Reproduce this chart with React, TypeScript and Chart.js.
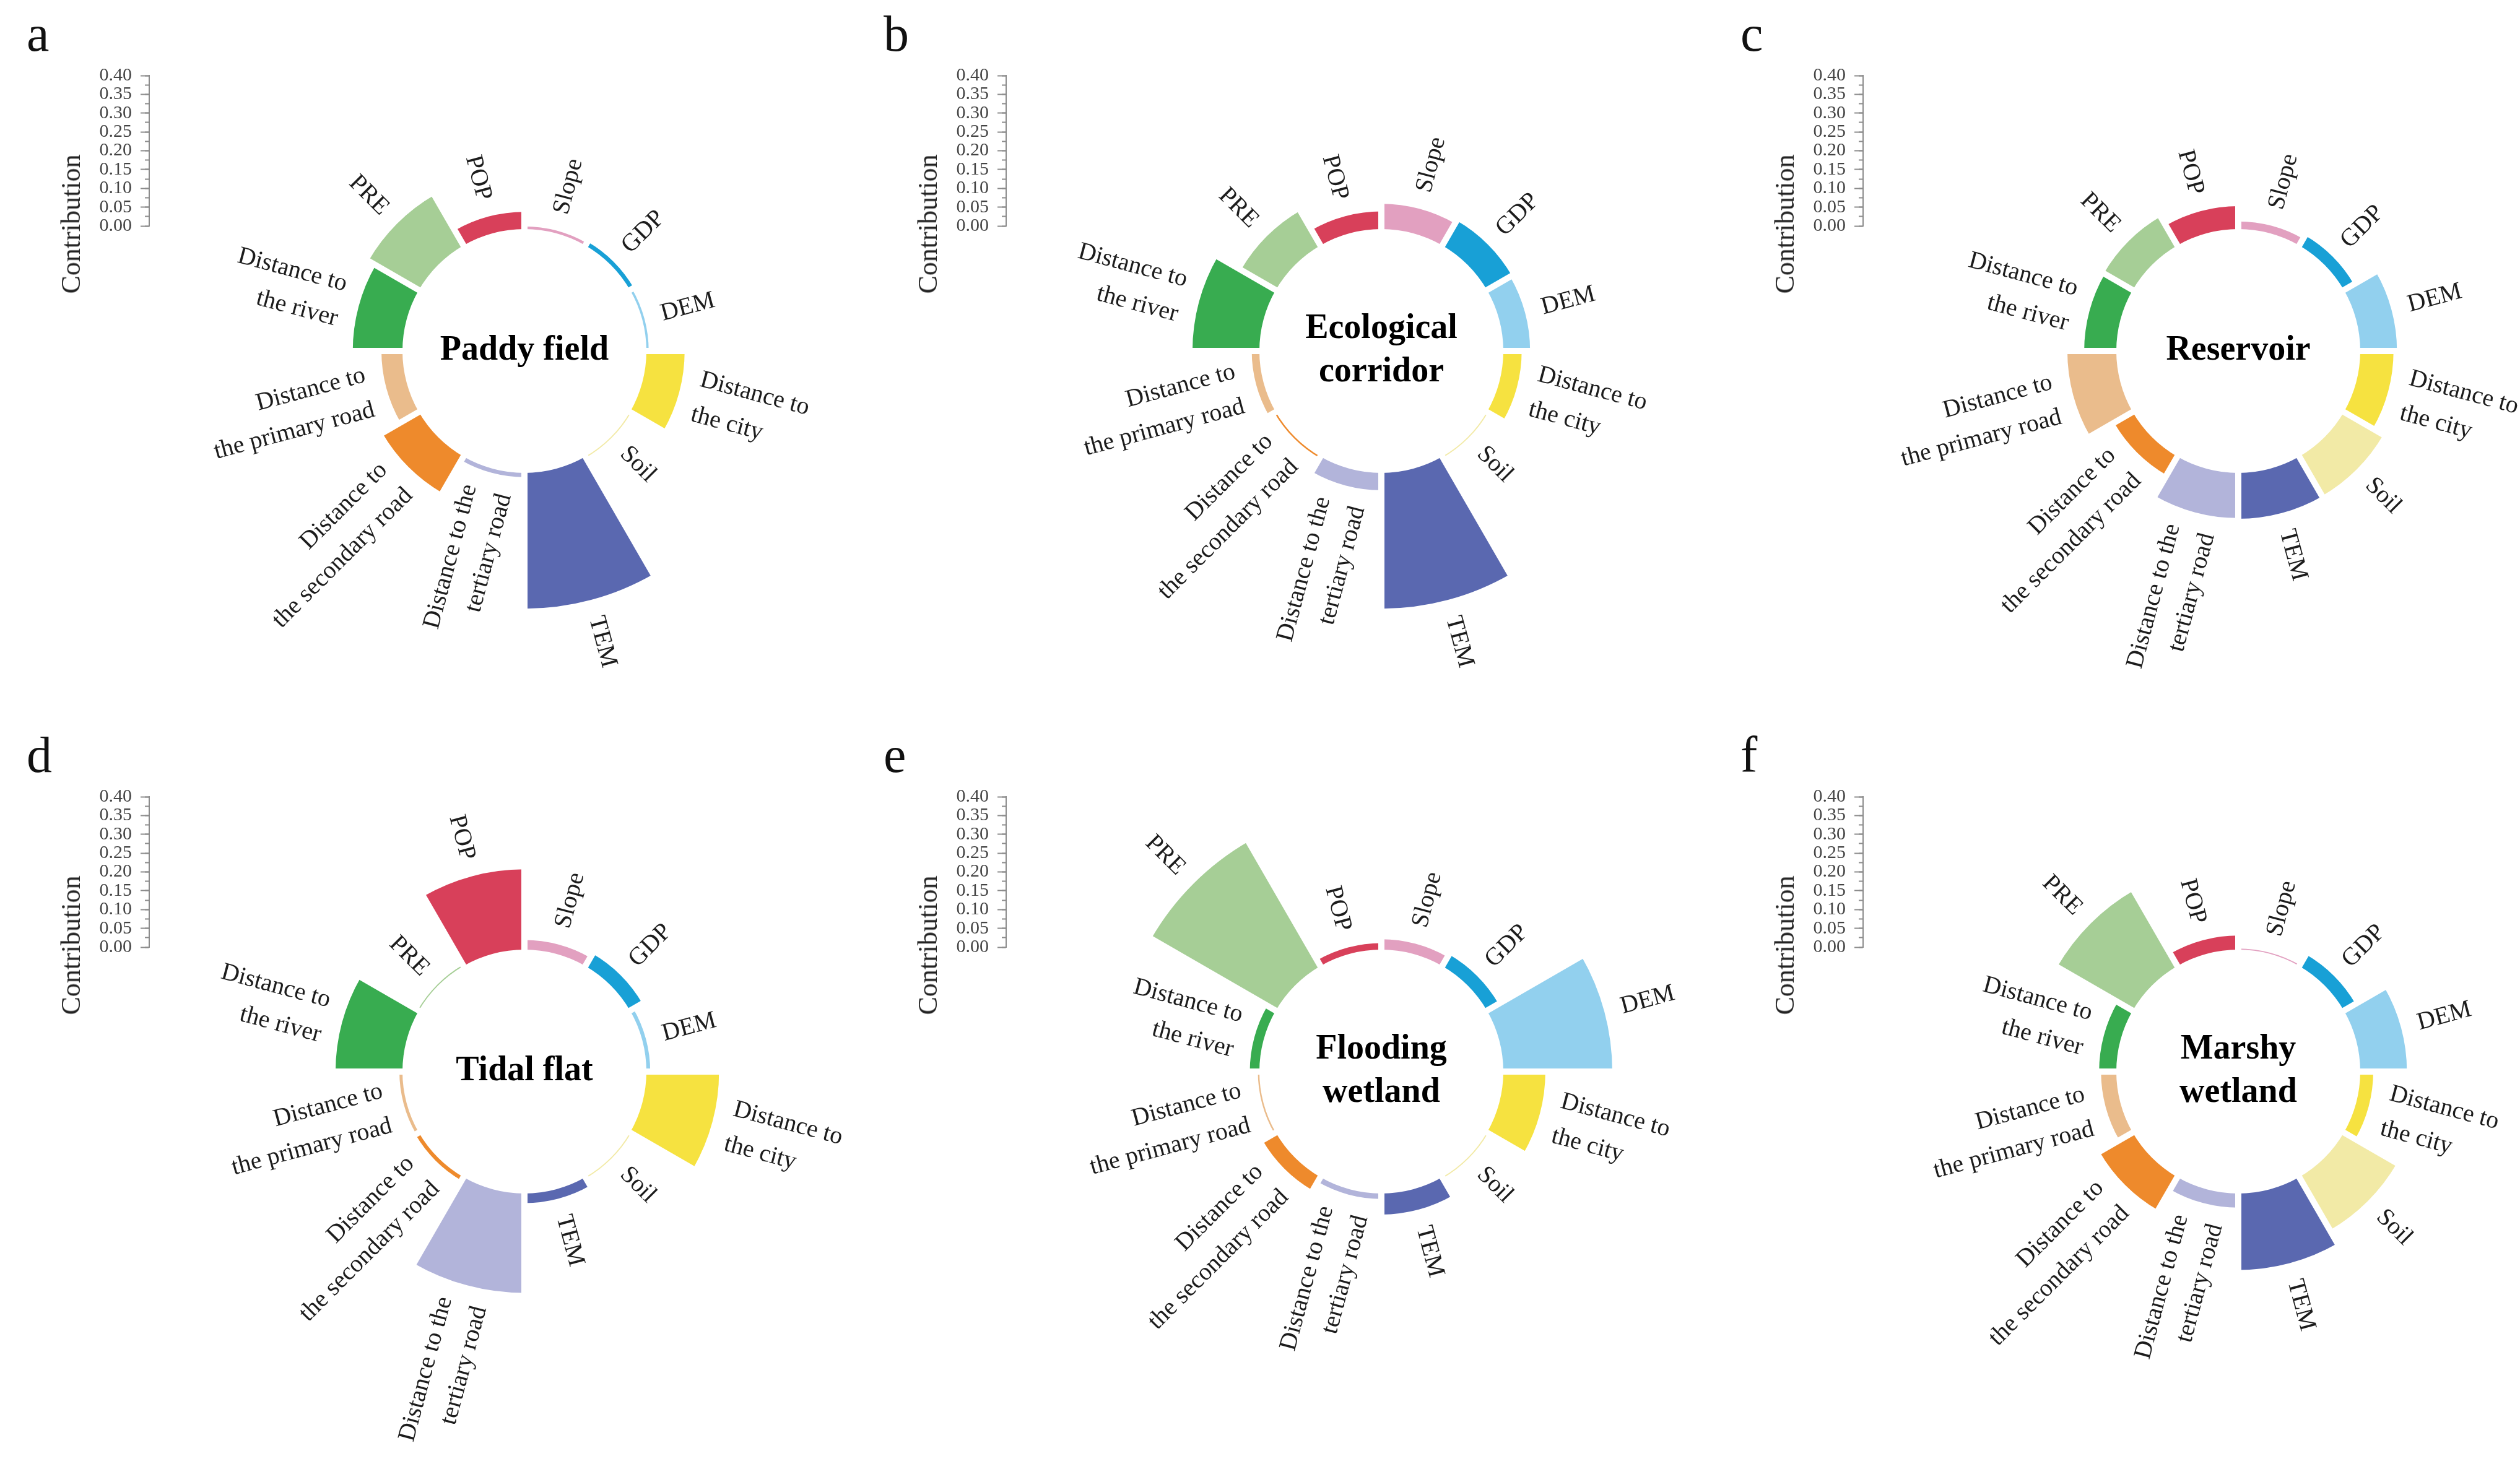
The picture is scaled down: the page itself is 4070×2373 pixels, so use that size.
import React, { useEffect, useRef } from 'react';
import { Chart, registerables } from 'chart.js';

Chart.register(...registerables);

// ---------- data ----------
const FACTORS = [
  'Slope',
  'GDP',
  'DEM',
  'Distance to the city',
  'Soil',
  'TEM',
  'Distance to the tertiary road',
  'Distance to the secondary road',
  'Distance to the primary road',
  'Distance to the river',
  'PRE',
  'POP',
];

const FACTOR_LINES = [
  ['Slope'],
  ['GDP'],
  ['DEM'],
  ['Distance to', 'the city'],
  ['Soil'],
  ['TEM'],
  ['Distance to the', 'tertiary road'],
  ['Distance to', 'the secondary road'],
  ['Distance to', 'the primary road'],
  ['Distance to', 'the river'],
  ['PRE'],
  ['POP'],
];

const FACTOR_COLORS = [
  '#E2A0C0', // Slope
  '#18A0D6', // GDP
  '#92D0EE', // DEM
  '#F6E240', // city
  '#F2EAA6', // Soil
  '#5A68B0', // TEM
  '#B2B4DA', // tertiary
  '#EE8A2C', // secondary
  '#EABC8C', // primary
  '#38AC50', // river
  '#A6CE96', // PRE
  '#D8405A', // POP
];

const paddyField = [0.007, 0.011, 0.006, 0.1, 0.003, 0.355, 0.011, 0.11, 0.055, 0.13, 0.152, 0.045];
const ecologicalCorridor = [0.066, 0.075, 0.07, 0.048, 0.003, 0.355, 0.045, 0.004, 0.02, 0.175, 0.105, 0.046];
const reservoir = [0.02, 0.03, 0.096, 0.087, 0.119, 0.12, 0.118, 0.056, 0.128, 0.084, 0.087, 0.06];
const tidalFlat = [0.025, 0.037, 0.01, 0.19, 0.003, 0.025, 0.26, 0.01, 0.008, 0.175, 0.003, 0.21];
const floodingWetland = [0.027, 0.035, 0.285, 0.11, 0.003, 0.055, 0.014, 0.04, 0.004, 0.025, 0.376, 0.017];
const marshyWetland = [0.003, 0.035, 0.122, 0.034, 0.16, 0.2, 0.037, 0.1, 0.04, 0.045, 0.228, 0.037];

const PANEL_VALUES = [paddyField, ecologicalCorridor, reservoir, tidalFlat, floodingWetland, marshyWetland];
const PANEL_LETTERS = ['a', 'b', 'c', 'd', 'e', 'f'];
const PANEL_TITLES = [
  ['Paddy field'],
  ['Ecological', 'corridor'],
  ['Reservoir'],
  ['Tidal flat'],
  ['Flooding', 'wetland'],
  ['Marshy', 'wetland'],
];

const AXIS_MIN = 0;
const AXIS_MAX = 0.4;
const AXIS_STEP = 0.05;
const AXIS_MINOR_STEP = 0.025;
const AXIS_TITLE = 'Contribution';

// ---------- layout ----------
const PAGE_W = 4070;
const PAGE_H = 2373;
const COL_X = [847, 2231, 3615];
const ROW_Y = [567, 1731];
const COL_STEP = 1384;
const ROW_STEP = 1165;

const PX_PER_UNIT = 617.5;
const HOLE_R = 197;
const DRAW_R = 480;
const POLAR_SIZE = 1300;
const POLAR_PAD = (POLAR_SIZE - 2 * DRAW_R) / 2;
const R_MIN = -HOLE_R / PX_PER_UNIT;
const R_MAX = R_MIN + DRAW_R / PX_PER_UNIT;

const GAP = 10;
const LABEL_GAP = 28;
const LABEL_SIZE = 40;
const LABEL_LH = 58;
const TITLE_SIZE = 56;
const TITLE_LH = 70;
const SERIF = '"Liberation Serif", "Times New Roman", serif';

const AXIS_X0 = 241;
const AXIS_TOP0 = 120;
const AXIS_LEN = AXIS_MAX * PX_PER_UNIT;
const AXIS_BOX_W = 160;
const AXIS_PAD = 30;

const radialPlugin = {
  id: 'radialDecor',
  afterDatasetsUpdate(chart: any) {
    const rs = chart.scales.r;
    const r0 = rs.getDistanceFromCenterForValue(0);
    chart.getDatasetMeta(0).data.forEach((arc: any) => {
      arc.innerRadius = r0;
    });
  },
  afterDatasetsDraw(chart: any, _args: any, opts: any) {
    const ctx = chart.ctx;
    const arcs = chart.getDatasetMeta(0).data;
    if (!arcs.length) return;
    const rs = chart.scales.r;
    const cx = rs.xCenter;
    const cy = rs.yCenter;
    const r0 = rs.getDistanceFromCenterForValue(0);
    const rOuter = rs.drawingArea;
    ctx.save();
    // white separators between bars
    ctx.strokeStyle = '#ffffff';
    ctx.lineWidth = GAP;
    ctx.lineCap = 'butt';
    arcs.forEach((arc: any) => {
      const a = arc.startAngle;
      ctx.beginPath();
      ctx.moveTo(cx + Math.cos(a) * (r0 - 3), cy + Math.sin(a) * (r0 - 3));
      ctx.lineTo(cx + Math.cos(a) * (rOuter + 10), cy + Math.sin(a) * (rOuter + 10));
      ctx.stroke();
    });
    // factor labels
    ctx.fillStyle = '#1c1c1c';
    ctx.font = `${LABEL_SIZE}px ${SERIF}`;
    ctx.textBaseline = 'middle';
    arcs.forEach((arc: any, i: number) => {
      const mid = (arc.startAngle + arc.endAngle) / 2;
      const rr = arc.outerRadius + LABEL_GAP;
      const px = cx + Math.cos(mid) * rr;
      const py = cy + Math.sin(mid) * rr;
      const right = Math.cos(mid) > 1e-6;
      const rot = right ? mid : mid + Math.PI;
      const lines = FACTOR_LINES[i];
      const n = lines.length;
      ctx.save();
      ctx.translate(px, py);
      ctx.rotate(rot);
      ctx.textAlign = right ? 'left' : 'right';
      lines.forEach((t: string, k: number) => ctx.fillText(t, 0, (k - (n - 1) / 2) * LABEL_LH));
      ctx.restore();
    });
    // centre title
    const title: string[] = (opts && opts.title) || [];
    ctx.fillStyle = '#000000';
    ctx.font = `bold ${TITLE_SIZE}px ${SERIF}`;
    ctx.textAlign = 'center';
    ctx.textBaseline = 'middle';
    title.forEach((t, k) => ctx.fillText(t, cx, cy + (k - (title.length - 1) / 2) * TITLE_LH));
    ctx.restore();
  },
};

function Panel({ idx }: { idx: number }) {
  const polarRef = useRef<HTMLCanvasElement>(null);
  const axisRef = useRef<HTMLCanvasElement>(null);
  const col = idx % 3;
  const row = Math.floor(idx / 3);
  const cx = COL_X[col];
  const cy = ROW_Y[row];
  const axisX = AXIS_X0 + col * COL_STEP;
  const axisTop = AXIS_TOP0 + row * ROW_STEP;

  useEffect(() => {
    const polar = new Chart(polarRef.current as HTMLCanvasElement, {
      type: 'polarArea',
      data: {
        labels: FACTORS,
        datasets: [
          {
            data: PANEL_VALUES[idx],
            backgroundColor: FACTOR_COLORS,
            borderWidth: 0,
          },
        ],
      },
      options: {
        animation: false,
        responsive: false,
        maintainAspectRatio: false,
        events: [],
        layout: { padding: POLAR_PAD },
        plugins: {
          legend: { display: false },
          tooltip: { enabled: false },
          radialDecor: { title: PANEL_TITLES[idx] },
        } as any,
        scales: {
          r: { display: false, min: R_MIN, max: R_MAX, startAngle: 0 },
        },
      },
      plugins: [radialPlugin as any],
    });

    const tickFont = { family: SERIF, size: 30 };
    const axis = new Chart(axisRef.current as HTMLCanvasElement, {
      type: 'line',
      data: { labels: [], datasets: [] },
      options: {
        animation: false,
        responsive: false,
        maintainAspectRatio: false,
        events: [],
        layout: { padding: { left: 0, right: 0, top: AXIS_PAD, bottom: AXIS_PAD } },
        plugins: { legend: { display: false }, tooltip: { enabled: false } },
        scales: {
          x: { display: false },
          y: {
            type: 'linear',
            position: 'left',
            weight: 1,
            min: AXIS_MIN,
            max: AXIS_MAX,
            afterFit: (s: any) => {
              s.width = AXIS_BOX_W;
            },
            ticks: {
              stepSize: AXIS_STEP,
              autoSkip: false,
              padding: 14,
              color: '#444444',
              font: tickFont,
              callback: (v: any) => Number(v).toFixed(2),
            },
            grid: { drawOnChartArea: false, drawTicks: true, tickLength: 14, tickColor: '#8c8c8c', tickWidth: 2 },
            border: { display: true, color: '#8c8c8c', width: 2 },
          },
          yMinor: {
            type: 'linear',
            position: 'left',
            weight: 0,
            min: AXIS_MIN,
            max: AXIS_MAX,
            afterFit: (s: any) => {
              s.width = 0;
            },
            ticks: { stepSize: AXIS_MINOR_STEP, autoSkip: false, display: false },
            grid: { drawOnChartArea: false, drawTicks: true, tickLength: 7, tickColor: '#8c8c8c', tickWidth: 2 },
            border: { display: false },
          },
        } as any,
      },
    });
    return () => {
      polar.destroy();
      axis.destroy();
    };
  }, [idx]);

  const axisCanvasLeft = axisX - AXIS_BOX_W;
  const axisCanvasTop = axisTop - AXIS_PAD;
  const axisCanvasW = AXIS_BOX_W + 20;
  const axisCanvasH = Math.round(AXIS_LEN) + 2 * AXIS_PAD;

  return (
    <>
      <canvas
        ref={axisRef}
        width={axisCanvasW}
        height={axisCanvasH}
        style={{ position: 'absolute', left: axisCanvasLeft, top: axisCanvasTop, width: axisCanvasW, height: axisCanvasH }}
      />
      <canvas
        ref={polarRef}
        width={POLAR_SIZE}
        height={POLAR_SIZE}
        style={{
          position: 'absolute',
          left: cx - POLAR_SIZE / 2,
          top: cy - POLAR_SIZE / 2,
          width: POLAR_SIZE,
          height: POLAR_SIZE,
        }}
      />
      <div
        style={{
          position: 'absolute',
          left: 43 + col * COL_STEP,
          top: 14 + row * ROW_STEP,
          font: `82px ${SERIF}`,
          lineHeight: '82px',
          color: '#111',
        }}
      >
        {PANEL_LETTERS[idx]}
      </div>
      <div
        style={{
          position: 'absolute',
          left: 115 + col * COL_STEP,
          top: 362 + row * ROW_STEP,
          transform: 'translate(-50%, -50%) rotate(-90deg)',
          font: `44px ${SERIF}`,
          lineHeight: '44px',
          whiteSpace: 'nowrap',
          color: '#222',
        }}
      >
        {AXIS_TITLE}
      </div>
    </>
  );
}

export default function App() {
  return (
    <div
      style={{
        position: 'absolute',
        left: 0,
        top: 0,
        width: PAGE_W,
        height: PAGE_H,
        overflow: 'hidden',
        background: '#ffffff',
      }}
    >
      {PANEL_VALUES.map((_, i) => (
        <Panel key={i} idx={i} />
      ))}
    </div>
  );
}
